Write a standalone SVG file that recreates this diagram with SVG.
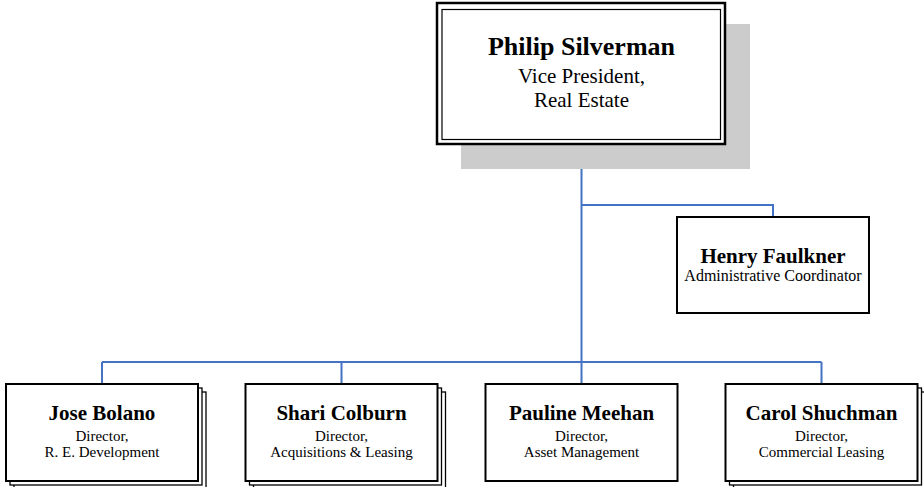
<svg xmlns="http://www.w3.org/2000/svg" width="924" height="487" viewBox="0 0 924 487">
<style>
.b{fill:#fff;stroke:#000;stroke-width:2}
.s{fill:#fff;stroke:#000;stroke-width:1.3}
.c{fill:none;stroke:#4472c4;stroke-width:2}
text{font-family:"Liberation Serif","Times New Roman",serif;text-anchor:middle;fill:#000}
.n{font-weight:bold;font-size:21px}
.t{font-size:15px}
</style>
<rect width="924" height="487" fill="#fff"/>
<g id="connectors">
<path class="c" d="M581.5 145V362M581.5 205H773V217M102 362H821.5M102 362V384M341.5 362V384M581.5 362V384M821.5 362V384"/>
</g>
<g id="philip">
<rect x="461" y="24" width="289" height="145" fill="#cccccc"/>
<rect x="437" y="3" width="288" height="141" fill="#fff" stroke="#000" stroke-width="2.5"/>
<rect x="442" y="9.5" width="278.5" height="130" fill="none" stroke="#000" stroke-width="1.2"/>
<text class="n" x="581.5" y="55" style="font-size:26px">Philip Silverman</text>
<text x="581.5" y="83" style="font-size:21px">Vice President,</text>
<text x="581.5" y="107" style="font-size:21px">Real Estate</text>
</g>
<g id="henry">
<rect class="b" x="677" y="217" width="192" height="96"/>
<text class="n" x="773" y="263">Henry Faulkner</text>
<text x="773" y="281" style="font-size:16px">Administrative Coordinator</text>
</g>
<g id="jose">
<rect class="s" x="14" y="392" width="192" height="97"/>
<rect class="s" x="10" y="388" width="192" height="97"/>
<rect class="b" x="6" y="384" width="192" height="97"/>
<text class="n" x="102" y="420">Jose Bolano</text>
<text class="t" x="102" y="441">Director,</text>
<text class="t" x="102" y="457">R. E. Development</text>
</g>
<g id="shari">
<rect class="s" x="253.5" y="392" width="192" height="97"/>
<rect class="s" x="249.5" y="388" width="192" height="97"/>
<rect class="b" x="245.5" y="384" width="192" height="97"/>
<text class="n" x="341.5" y="420">Shari Colburn</text>
<text class="t" x="341.5" y="441">Director,</text>
<text class="t" x="341.5" y="457">Acquisitions &amp; Leasing</text>
</g>
<g id="pauline">
<rect class="b" x="485.5" y="384" width="192" height="97"/>
<text class="n" x="581.5" y="420">Pauline Meehan</text>
<text class="t" x="581.5" y="441">Director,</text>
<text class="t" x="581.5" y="457">Asset Management</text>
</g>
<g id="carol">
<rect class="s" x="733.5" y="392" width="192" height="97"/>
<rect class="s" x="729.5" y="388" width="192" height="97"/>
<rect class="b" x="725.5" y="384" width="192" height="97"/>
<text class="n" x="821.5" y="420">Carol Shuchman</text>
<text class="t" x="821.5" y="441">Director,</text>
<text class="t" x="821.5" y="457">Commercial Leasing</text>
</g>
</svg>
